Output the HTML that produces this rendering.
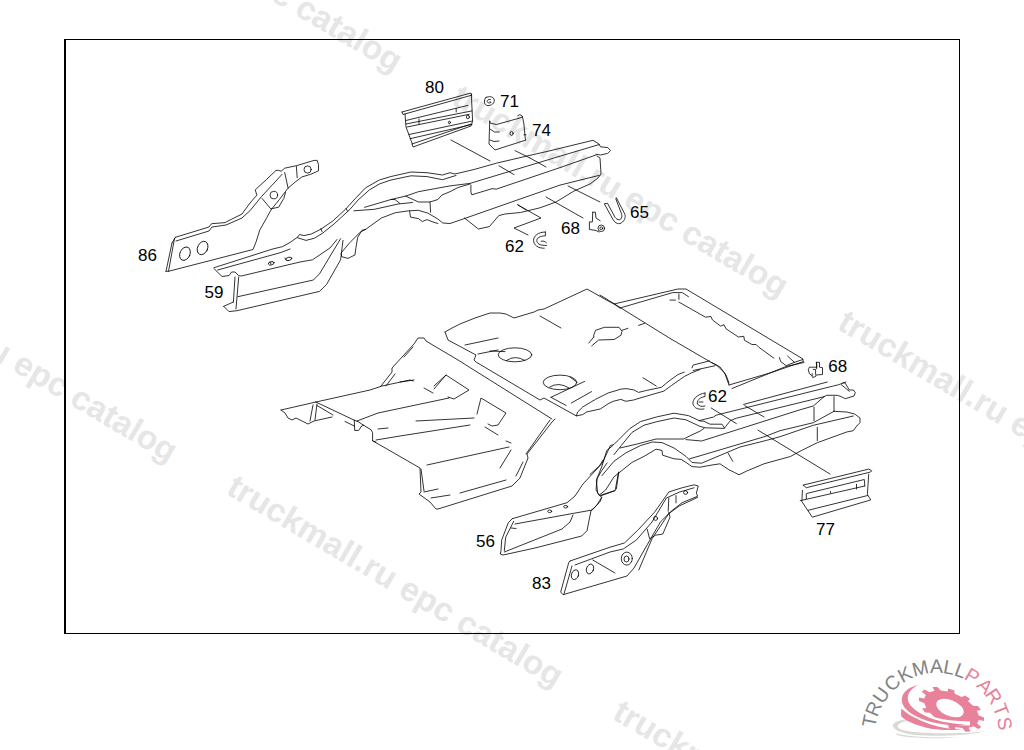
<!DOCTYPE html>
<html><head><meta charset="utf-8"><style>
html,body{margin:0;padding:0;background:#fff;}
body{width:1024px;height:750px;overflow:hidden;}
svg{display:block;}
</style></head><body>
<svg width="1024" height="750" viewBox="0 0 1024 750">
<rect width="1024" height="750" fill="#fff"/>
<g font-family="'Liberation Sans', sans-serif" font-weight="bold" font-size="33.3" fill="#e6e6e6">
<text transform="translate(64 -122) rotate(30.6)">truckmall.ru epc catalog</text>
<text transform="translate(450 103) rotate(30.6)">truckmall.ru epc catalog</text>
<text transform="translate(836 328) rotate(30.6)">truckmall.ru epc catalog</text>
<text transform="translate(1222 553) rotate(30.6)">truckmall.ru epc catalog</text>
<text transform="translate(-161 268) rotate(30.6)">truckmall.ru epc catalog</text>
<text transform="translate(225 493) rotate(30.6)">truckmall.ru epc catalog</text>
<text transform="translate(611 718) rotate(30.6)">truckmall.ru epc catalog</text>
<text transform="translate(997 943) rotate(30.6)">truckmall.ru epc catalog</text>
</g>
<g fill="#000"><rect x="64" y="39" width="896" height="1"/><rect x="64" y="633" width="896" height="1"/><rect x="64" y="39" width="2" height="595"/><rect x="959" y="39" width="1" height="595"/></g>
<g fill="none" stroke="#000" stroke-width="0.8" stroke-linejoin="round" stroke-linecap="round">
<path d="M172 243 L166 271.3 M174.5 238.5 L168.5 271.3 M172 243 L175.4 237.3 M166 271.3 L168.5 271.3 L253 249.5 L256 242 L259.8 230 L266.8 217.6 L268.2 215 L271.7 208.9 L279.5 199.4 L288.1 188.1 L295.1 182.1 L302 176.9 L310.7 174.3 L318.5 170.8 L318.5 164.7 L317.2 160.4 L314.1 160.4 L296.8 165.6 L284.7 168.2 L281.2 171.2 L278.6 170.4 L276 170.4 L266.5 179.5 L255.2 189.9 L256.9 195.1 L250 203 L242 214 L228 221 L225.2 222.6 L211.6 223.7 L209 227 L175.4 237.3 M176 241 L209 231 L212 227 L226 225 L242 218 L250 210.7 L261.3 196.8 L282.1 174.3 M284.7 172.5 L288.1 188.1 M262.1 198.5 L270.8 208.9 L278.6 207.2 L283.8 198.5 L285.5 192.5 M296.4 166.5 L297.2 177.7 M214 267.7 L272 249.2 L282.6 246.6 L290 242.5 L297.5 237.2 L299.6 234.5 L303.9 235.6 L311.3 234 L320.9 229.2 L332.6 221.2 L345.4 209.4 L356.1 197.7 L365.6 187.8 L379.3 180 L391 176.5 L411 172 L427 172.7 L442.5 175 L450 172.7 L455 174 L474 169.5 L496.4 163.2 L527 156 L549 151 L593 140.3 L599 144 L600.4 146.8 L607.7 147.6 L610.6 150.5 L607.7 153.4 L600.4 155 L596 154.2 M217.6 270 L281 252.5 L290 249 M297.5 237.7 L306 240.4 L314.5 238.2 L323 232.9 L334.8 223.3 L350 209.3 L358.2 199.9 L369.5 189.8 L379.6 183.9 L391 180 L411 175.8 L427 176.6 L442.5 179.7 L450 177.3 L456 175.5 M214 268.6 L222 276.5 L229 275.6 L231.6 272 L235 272 L238.7 275.6 L241.3 276 L300 262 L312.5 259.8 L330 248 L337 239.5 M238.7 277 L236 309 M235 277 L233.4 302 M223.7 306.3 L229 311.6 L237 310.7 L319.5 291.4 L326.6 284.4 L340.6 259.8 L343 240.4 M223.7 306.3 L233.4 302 M237.8 296.7 L313.4 280 L319.5 273.8 L340.6 238.7 M365.6 229.4 L362 230.3 L357.7 237.3 L355.9 247.9 L355 254.9 L348 258.4 L341.8 256.7 L341 253.1 L349.8 242.6 L360.3 232.1 L365.6 229.4 M365.6 229.4 L381.4 218 L395.4 212.7 L408.6 210.8 L418.4 210.3 L428.1 213.2 L437.9 219.1 L442.8 223 L450 223.5 L466 218 L489.3 209.8 L560 185.1 L599 175.4 M270 262 L271 264 M285 258 L286 260 M364.6 207.3 L391 199.5 L405.7 196.1 L418.4 191.7 L450 185.9 L470 183.4 L560 156.2 L599 144.6 M353.9 210.8 L374.4 209.3 L398.8 203.9 L412.5 202.5 M405.7 196.1 L418.4 202 L430 202 L437.9 199.5 L441.8 195.1 L450 191.7 L458 187.5 L470 184 M391 199.5 L395 199.5 L399.8 203.4 M470.9 185 L470.9 192 L471.8 194.8 L492 188.7 L496.4 189.1 L560 167.6 L596 155 M597 156 L600 158 L601 174 L598 178 L590 184 L574 191 L556 202 L540 207.8 L520.6 212.5 L505 214 L498.8 215.6 L489.4 226.6 L478.4 229 L464.4 218 M409.6 211.3 L410.5 217.1 L418.4 218.6 L422.3 221.5 L427.1 219.6 L433 222 L437.9 223.5 M430 202 L430.6 212.2 M320.9 228.6 L322 231.5 M346 208.4 L347.5 211 M402 112 L470.6 93.1 L472 95.1 L403 114.5 L402 112 M405 114 L406 127 L412 143 L413 147 L471 126 L472.6 121.1 L471.3 93.8 M412 144 L471 124 M406 120.5 L467.9 105.4 M406 124 L472 110.9 M407 127 L469.2 114.3 M409 134.5 L472 121.1 M410 138.7 L472 124.5 M419 119 L419 124 M456.2 108.5 L456.2 112 M489.7 121.1 L490.4 123.2 L496.6 124.5 L518.4 118.4 M517.8 115.7 L519.8 114.6 L521.9 115.7 L522.5 117 L518.4 118.4 M522.5 117 L523.9 123.9 L525.3 138.9 L526 140 L495 150 L489 144 L489.7 121.1 M490.4 129.3 L494.5 132 L499.3 132 M490 140 L494 141.5 L499 141 M523.9 134.8 L526 134.8 M451 140 L490 161 M499 165.8 L514 174.6 M515 150.6 L530 158 M530 158 L546 167 M517.5 204.5 L526 210 M568 186 L600 202 M546 197 L583 218 M528 235 L514 228 L541 218 L518 205 M281 410 L316 402 L370 390 L382 386 L410 380 L413 381 M281 410 L285 413 L288 418 L292 420 L296 418 L298 419 L308 424 L314 421 L332 417 M313 405 L310 421 M317 404 L315 420 M315.4 401.8 L354.3 420.2 M317 405.5 L333 415 M345 421.5 L354.3 426 M354.3 420.2 L358 421.6 L363.7 425.3 L371 429.7 L372.6 432.6 L372.6 441 L376 442 M354.3 420.5 L354.7 430.4 L358.7 430.4 L361.6 426 L363.7 425.3 M357 421 L378 413 L449 398 M376 440 L400 436 L470 425 M373 441 L420 468 L421 492 L419 494 L430 502 L436 509 L438 509 L512 486 L520 478 L528 458 L527 454 L538 440 L552 422 L555 419 M421 469 L424 491 M526 454 L550 420 M516 476 L523 462 M381 386 L392 372 L392 368 L414 344 L418 338 L424 338 L426 341 L458 360 L552 419 M386 386 L395 374 M404 357 L413 347 M434 386 L446 375 L469 390 L454 399 L448 397 M400 382 L414 380 M424 388 L433 393 M416 421 L474 418 M378 429 L388 428 M477 414 L481 398 L506 413 L498 425 L492 426 L488 424 M485 427 L498 435 M506 441 L511 443 M427 465 L509 447 M511 450 L500 468 M424 492 L438 489 M431 498 L450 495 M460 493 L506 480 M445 332 L452 328 L460 324 L475 318 L490 313 L500 313 L506 314 L514 318 L534 312 L538 310 L544 309 L587 289 L610 302 L614 304 L678 289 L686 289 L803 359 L803 361 M445 332 L448 340 L476 355 L474 360 L476 362 L540 400 L544 398 L576.3 415.9 L577.6 412 L582.7 407 L595.4 399.4 L608.1 393 L620.8 389.2 L625.9 388.6 L633.5 389.8 L638.6 392.4 L646.2 390.5 L661.4 387.3 L669 381 L677.9 374.6 L684.3 372.1 M465 345 L498 338 M478 354 L498 350 M540 316 L561 328 M551 397.3 L584.6 381.4 M551 397.3 L566.2 405.5 M571.3 403 L591.6 391.6 M593.7 337 L593.7 335.2 L595.6 330.3 L604.4 327.3 L619 327.3 L622 331.3 L621 335.2 L614.2 339.5 L598.6 340 L591.7 345.9 M622 330.3 L627.9 328.3 M593.7 337.1 L588.8 343 M638.6 325.4 L644.5 323.4 M600 295 L670 338.4 L711 362.3 L716.5 365 L724.7 373 L729 385 M729 385 L771.2 372.6 L803.3 361.6 M732 388.5 L786.2 366.4 L804 362.5 M620 308 L672.7 292.6 L682.3 292.6 L688.5 296.7 M670 300.1 L675.5 300.1 M678.9 294 L678.9 299.4 M678.9 302.1 L705.5 317.2 L711 316.5 L712.4 319.9 L720.6 326.1 L724 324.7 L726 328.8 L738.4 337 L743.8 336.3 L744.5 340.4 L752 344.5 L756.1 344.5 L758.9 347.3 L773.9 358.2 M779.4 357.5 L780.7 361.6 L786.2 365.7 L794.4 362.3 L802.6 359.6 M787.6 356.1 L794.4 362.3 M691.9 367.8 L693.2 365 L709.6 360.9 M693.2 370.5 L715.1 365.7 M711 362.3 L720 367 L726 375 L729 383 M576.3 415.9 L582.7 414.6 L586.5 412 L600.5 408.9 L608.1 403.8 L613.2 401.3 L620.8 399.4 L625.9 401.3 L633.5 400 L646.2 396.2 L663.9 391.1 L671.6 385.4 L684.3 376.5 L691.9 372.7 L700 369.5 M643 377.8 L656.3 386 M570 377.1 L576.3 381.6 M614 304 L620 308 M434 389 L446 375 M512.3 518.7 L508.3 522.7 L501.7 540 L501 550.7 L500.3 554 L503 555 L535 548 L581.7 536 L587 530.7 L591 510.7 L597 505 L601.7 497.3 M513.7 521.3 L505.7 537.3 L504.3 550.7 M512.3 518.7 L567 502.7 L575 496 L583 484 L599 466.7 L603 460 M515 524 L573.7 513.3 L592.3 510 L600.3 501.3 L601.7 497.3 L597.7 493.3 L596.3 480 L601.7 470.7 L607 463 M504.3 552 L562 529 L570 522 L573 515 M511 528 L516 528.5 M600.3 496 L615 490.7 M590 474.4 L602 463.6 L610.4 445.6 L614 444.4 L618.8 439.6 L629.6 428.8 L640.4 421.6 L657.2 416.8 L674 413.2 L688.4 415.6 L700 421 L704 421.2 L710 424.2 L722 424.2 L724.4 427.8 M614 454.6 L621.2 445.6 L632 432.4 L644 425.2 L657.2 421.6 L674 418 L686 419.8 L700 426.4 L705.2 427.8 L724.4 428.4 L725.6 426.6 L730.4 420.6 L736.4 418.2 L824 396.7 M620 448 L638 443.8 L656 439 L683.6 439 L692 434.8 L700 431.2 L704 428.4 M686 439.6 L701.6 441 L800 409.8 L813.3 406 L824 396.7 M602 475.6 L614 461.2 L626 452.8 L640.4 445.6 L652.4 442 L662 442.6 L674 448 L686 456.4 L692 462.5 L701.6 463.2 L740 447 L766.4 440.4 L780 436.7 L813.3 425.3 L853.3 416 M599.2 495.2 L605.6 490 L614 476.8 L620 472 L632 462.4 L644 456.4 L656 449.2 L662 450.4 L662.6 455.2 L674 458.8 L681.2 459.4 L686 462.4 L692 466.6 L700 467.2 L712 465 L720 463.8 L728.8 469.7 L734.7 472.6 L739 474.8 L746.4 471.2 L764 463.8 L790.4 456.5 L800 451.3 L817.3 442.7 L846.7 432 L853.3 430.7 L856.7 426 L860 422.7 L860 418 L854.7 414 L846.7 412 L834 411.3 M689.6 458.8 L700 455.8 L764 436.8 L780 430.7 L813.3 422.7 L834 411.3 M599.2 495.2 L596 490 L597.2 478 L602 466 L606.8 450.4 L612.8 445.6 M616.4 488.8 L618.8 472 M618.4 472.8 L615.2 490.4 L600.8 495.2 M728 453 L732.8 461.4 M743.6 404.4 L827.3 382 M699.2 420.6 L713.6 417 L716 415.2 L833.3 386 L838.7 384.7 L844 382.7 L845.3 383.3 L849.3 390 L853.3 390 L855.3 392.7 L854 396 L845.3 398.7 L841.3 396.7 L837.3 395.3 L826.7 395.3 L824 396.7 M841.3 384.7 L849.3 391.3 M842.7 383 L846 382 M834 396.7 L834 411.3 M814 407.3 L814 420.7 M817.3 427.3 L817.3 440.7 M758 430.2 L830 474 M711.2 408 L736.4 423.6 M744.8 405.6 L764 417 M803.2 485.1 L868.7 469.1 L871.7 470.8 L870.4 472.1 L806.3 487.7 L803.2 485.1 M868.7 474.3 L867.4 494.7 L870.8 499.9 L812.3 517.2 L801.9 501.6 L802.4 490.3 M808 510.3 L867.8 495.5 M807.1 493.4 L864.3 479.5 L864.8 486 M800.2 500.7 L864.8 486 M806.3 493.8 L806.3 498.6 M856.5 484.3 L856.5 489 M830.5 491.5 L830.5 493 M570 561 L568.7 562.7 L560.7 592 L563 594.7 L627 576 L634 568 L647.2 544.8 L660.4 522 L671.2 511.2 L682 502.8 L697.6 496.2 L696.4 493.2 L698.2 486 L694 484.8 L682 487.8 L668.8 492 L654.4 512.4 L637.6 530.4 L624.4 543 L610 547.2 L570 561 M572 566 L564 594 M575 565 L610 552 L623.2 549 L636.4 540 L652 522 L666.4 498 L679.6 492 L694 487.8 M638.8 570 L652 538.8 L668.8 513.6 L679.6 505.8 L697.6 497.4 M647.2 529.2 L649.6 538.8 L655.6 535.2 L662.8 534 L670 517.2 L668.8 512.4 M668.8 498 L668.2 511.2 M676 495.6 L676 502.8 M592.7 560 L615 573"/>
<ellipse cx="185" cy="253.7" rx="5" ry="7" transform="rotate(25 185 253.7)"/>
<ellipse cx="202.6" cy="248" rx="5" ry="7" transform="rotate(25 202.6 248)"/>
<ellipse cx="273.8" cy="195.1" rx="3.8" ry="3.8" transform="rotate(0 273.8 195.1)"/>
<ellipse cx="307.6" cy="169.5" rx="3.6" ry="3.6" transform="rotate(0 307.6 169.5)"/>
<ellipse cx="271.2" cy="263.3" rx="3" ry="1.6" transform="rotate(-15 271.2 263.3)"/>
<ellipse cx="288.8" cy="258.9" rx="3" ry="1.6" transform="rotate(-15 288.8 258.9)"/>
<ellipse cx="515" cy="354.8" rx="16.8" ry="7" transform="rotate(0 515 354.8)"/>
<ellipse cx="560" cy="382.4" rx="16.8" ry="7.3" transform="rotate(0 560 382.4)"/>
<ellipse cx="575" cy="574.7" rx="3.5" ry="5" transform="rotate(20 575 574.7)"/>
<ellipse cx="590" cy="569" rx="3.5" ry="5" transform="rotate(20 590 569)"/>
<ellipse cx="626.8" cy="558.6" rx="5.5" ry="6.5" transform="rotate(0 626.8 558.6)"/>
<ellipse cx="626.5" cy="559" rx="2.5" ry="3" transform="rotate(0 626.5 559)"/>
<ellipse cx="655.6" cy="518.4" rx="2" ry="2" transform="rotate(0 655.6 518.4)"/>
<ellipse cx="685.6" cy="492.6" rx="2" ry="1.8" transform="rotate(0 685.6 492.6)"/>
<ellipse cx="549.7" cy="511.3" rx="2" ry="1.3" transform="rotate(0 549.7 511.3)"/>
<ellipse cx="565.7" cy="506.7" rx="2" ry="1.3" transform="rotate(0 565.7 506.7)"/>
<ellipse cx="511.6" cy="133.4" rx="1.6" ry="2" transform="rotate(0 511.6 133.4)"/>
<ellipse cx="467.9" cy="117" rx="1.5" ry="1.8" transform="rotate(0 467.9 117)"/>
<ellipse cx="449.4" cy="122.5" rx="1" ry="1.3" transform="rotate(0 449.4 122.5)"/>

<path d="M486 97.5 C489 96 493 96.5 494 99 C495 102 493 105 489 105.5 C486 106 484 104 484.5 101 C484.5 99.5 485 98.5 486 97.5 Z"/>
<path d="M490.5 99.5 C488.5 99 487 100 487.2 101.5 C487.5 103 489.5 103.3 491 102.5 L490 101.5"/>
<path d="M604.5 204.1 L613.1 219.7 C615 223 619 225.5 622.7 221.9 C625.5 219 625.5 216 624.9 214.3 L616.3 197.7 L615.8 198.8 L621.7 214.3 C622.3 216.5 621.5 219.5 619.5 219.7 C617.5 220 616 218.5 615.2 217.6 L607.7 203.6 Z"/>
<path d="M592.7 212.2 L595.4 212.2 L596 218 L600.2 220.8 M592.7 212.2 L592.4 221.9 L589.4 221.9 L589.4 229.4 L596 230.5 L599 232"/>
<circle cx="601.3" cy="228.3" r="3.3"/>
<circle cx="601.3" cy="228.3" r="1.4"/>
<path d="M545.4 232 C538 232 533.5 236 533.6 240.5 C533.7 245 538 248.5 544.3 248.2"/>
<path d="M545.4 232 L545.4 235.8 C540 236 536.8 238 536.8 240.5 C537 243.5 539 245.5 546.5 245.5"/>
<path d="M541.1 241.2 C543 240.5 545.5 241.5 546.5 242.8"/>
<path d="M816.6 362.3 L819.5 362.3 L819.5 367.2 L822.5 367.7 L822.5 374.5 L816.1 375 L815.6 376.5 L812.7 377.5 L811.7 375.5 L809.3 373.6 L808.3 369.6 L809.3 367.2 L816.6 367.2 Z M816.6 362.3 L816.6 368.7 M813.2 369.4 L815.6 369.4 L815.6 374.5 M812.2 373.6 L812.2 375.5"/>
<path d="M705 393 C697 394 692 400 693 404 C694 408 698 410 704 409"/>
<path d="M705 393 L705 396.5 C699 397.5 696.5 401 697.5 404 C698.5 406 702 407 705 406"/>
<path d="M699 402 L703 402"/>
<path d="M506.5 360.5 Q515 354.5 525 360.5"/>
<path d="M549.7 387 Q558.6 381.5 568.7 387.8"/>
<path d="M490 351 L505 351.6"/>

</g>
<g font-family="'Liberation Sans', sans-serif" font-size="17" fill="#000">
<text x="138" y="261">86</text>
<text x="204.5" y="297.5">59</text>
<text x="425" y="92.5">80</text>
<text x="500" y="107">71</text>
<text x="532" y="136">74</text>
<text x="630" y="218">65</text>
<text x="561" y="234">68</text>
<text x="505" y="252">62</text>
<text x="828.3" y="372">68</text>
<text x="708" y="402">62</text>
<text x="816" y="535">77</text>
<text x="476" y="546.5">56</text>
<text x="532" y="589">83</text>
</g>
<g font-family="'Liberation Sans', sans-serif" font-size="19.5"><g id="logo">
<path d="M977.1 723.6 L981.3 726.9 L978.4 729.1 L973.5 726.3 L968.5 727.8 L970.6 731.5 L965.6 731.7 L962.3 728.1 L955.4 727.1 L954.7 730.1 L948.9 728.3 L948.2 724.9 L941.3 721.6 L938.0 723.2 L933.0 719.9 L935.0 717.4 L929.8 712.8 L925.0 712.6 L922.0 708.6 L926.2 707.9 L924.2 703.0 L919.0 701.0 L918.9 697.5 L924.2 698.6 L925.9 695.0 L921.7 691.7 L924.6 689.5 L929.5 692.3 L934.5 690.8 L932.4 687.1 L937.4 686.9 L940.7 690.5 L947.6 691.5 L948.3 688.5 L954.1 690.3 L954.8 693.7 L961.7 697.0 L965.0 695.4 L970.0 698.7 L968.0 701.2 L973.2 705.8 L978.0 706.0 L981.0 710.0 L976.8 710.7 L978.8 715.6 L984.0 717.6 L984.1 721.1 L978.8 720.0 Z" fill="#e8819a"/>
<ellipse cx="950" cy="708" rx="14.5" ry="8" fill="#fff" transform="rotate(23 950 708)"/>
<path d="M906 698 C908 708 918 714 931 718.5 C943 722 955 723.5 970 723.5" fill="none" stroke="#fff" stroke-width="4"/>
<path d="M893 726 C892 721 905 718 925 718 C905 720 897 723 898 727 C899 732 925 734 962 733 C975 733 985 731 985 731 C975 735 940 737 915 735 C900 733 894 730 893 726 Z" fill="#d8dbd3"/>
<path d="M896 733 C905 737 935 738 960 737 C940 739 910 739 897 735 Z" fill="#d8dbd3"/>
<path d="M918.5 685 C908 687 901.5 693 901.8 700 C902 710 915 717 931 722 C943 725 955 726 966 724.5 C955 724 945 722.5 939 720.8 C925 717 912 710 908.5 702 C906 695 910 689 918.5 685 Z" fill="#e8819a"/>
<path d="M901.4 708.5 C901 712 901 714 901.4 716.5 C906 721 916 725.5 931 728.8 C943 730.5 955 730.2 962 729.4 C950 728.8 940 727.5 931 724.4 C918 720.5 907 714 901.4 708.5 Z" fill="#e8819a"/>
<text x="0" y="0" transform="translate(876.3 722.5) rotate(-78.4)" text-anchor="middle" fill="#838383">T</text>
<text x="0" y="0" transform="translate(879.8 711.2) rotate(-67.4)" text-anchor="middle" fill="#838383">R</text>
<text x="0" y="0" transform="translate(886.6 698.9) rotate(-54.4)" text-anchor="middle" fill="#838383">U</text>
<text x="0" y="0" transform="translate(896.6 688.0) rotate(-40.7)" text-anchor="middle" fill="#838383">C</text>
<text x="0" y="0" transform="translate(908.1 680.2) rotate(-27.8)" text-anchor="middle" fill="#838383">K</text>
<text x="0" y="0" transform="translate(922.0 674.8) rotate(-14.0)" text-anchor="middle" fill="#838383">M</text>
<text x="0" y="0" transform="translate(936.4 673.0) rotate(-0.6)" text-anchor="middle" fill="#838383">A</text>
<text x="0" y="0" transform="translate(947.9 674.0) rotate(10.1)" text-anchor="middle" fill="#838383">L</text>
<text x="0" y="0" transform="translate(958.3 676.8) rotate(20.1)" text-anchor="middle" fill="#838383">L</text>
<text x="0" y="0" transform="translate(968.8 681.8) rotate(30.9)" text-anchor="middle" fill="#e8819a">P</text>
<text x="0" y="0" transform="translate(980.4 690.7) rotate(44.4)" text-anchor="middle" fill="#e8819a">A</text>
<text x="0" y="0" transform="translate(988.3 700.2) rotate(55.9)" text-anchor="middle" fill="#e8819a">R</text>
<text x="0" y="0" transform="translate(994.7 712.3) rotate(68.5)" text-anchor="middle" fill="#e8819a">T</text>
<text x="0" y="0" transform="translate(998.1 724.6) rotate(80.3)" text-anchor="middle" fill="#e8819a">S</text>
</g></g>
</svg>
</body></html>
